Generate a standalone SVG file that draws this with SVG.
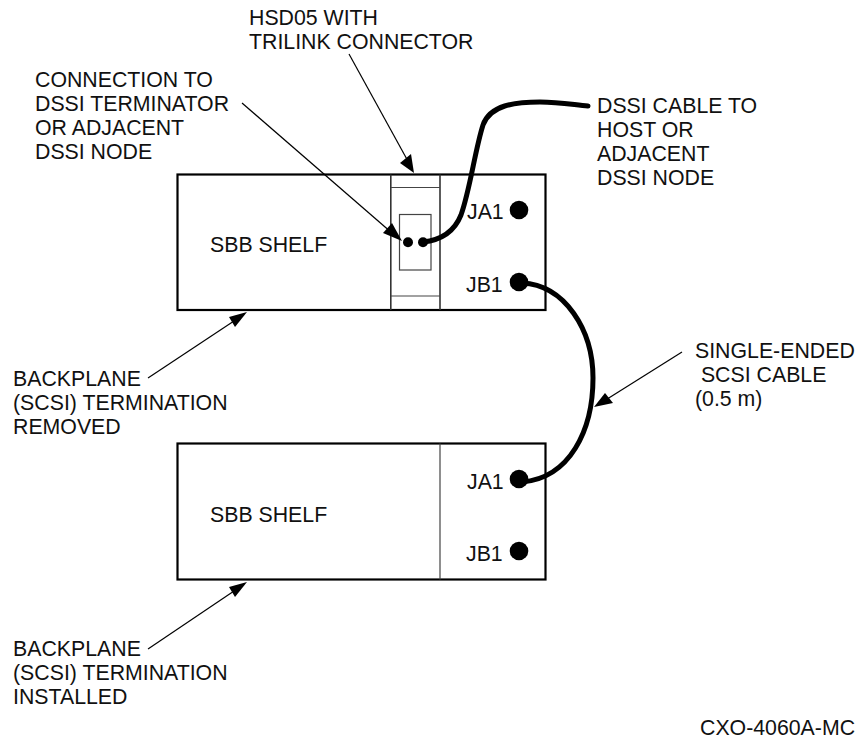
<svg xmlns="http://www.w3.org/2000/svg" width="858" height="740" viewBox="0 0 858 740">
<style>
text{font-family:"Liberation Sans",Arial,sans-serif;font-size:21.3px;fill:#111;white-space:pre}
.box{fill:none;stroke:#000;stroke-width:2.2}
.thin{fill:none;stroke:#444;stroke-width:1.2}
.mid{fill:none;stroke:#333;stroke-width:1.6}
.lead{fill:none;stroke:#000;stroke-width:1.2}
.cable{fill:none;stroke:#000;stroke-width:5;stroke-linecap:round}
.head{fill:#000;stroke:none}
</style>
<rect width="858" height="740" fill="#fff"/>
<g id="shelf-top">
<rect class="box" x="177.500" y="174.500" width="368" height="135.500"/>
<line class="mid" x1="390.800" y1="174.500" x2="390.800" y2="310"/>
<line class="mid" x1="440" y1="174.500" x2="440" y2="310"/>
<line class="thin" x1="391" y1="187.500" x2="440" y2="187.500"/>
<line class="thin" x1="391" y1="296" x2="440" y2="296"/>
<rect class="thin" x="399.500" y="214.500" width="31.500" height="55.500"/>
<text x="210" y="252">SBB SHELF</text>
<text x="467" y="219">JA1</text>
<text x="466" y="292">JB1</text>
</g>
<g id="shelf-bottom">
<rect class="box" x="177.500" y="443.500" width="368" height="136"/>
<line class="thin" x1="440" y1="443.500" x2="440" y2="579.500"/>
<text x="210" y="522">SBB SHELF</text>
<text x="467" y="489">JA1</text>
<text x="466" y="561">JB1</text>
</g>
<g id="ports">
<circle cx="519" cy="210" r="9.300"/>
<circle cx="519" cy="282" r="9.300"/>
<circle cx="519" cy="479" r="9.300"/>
<circle cx="519" cy="551" r="9.300"/>
<circle cx="408" cy="242.300" r="5"/>
<circle cx="423" cy="242.300" r="5"/>
</g>
<g id="connectors">
<path class="cable" d="M423 242C442 240 455 230 461 215C470 190 475 150 483 125C490 105 515 102 540 102C560 102 575 105 588 106"/>
<path class="cable" d="M522 283C565 285 593 330 593 378C593 430 570 478 522 482"/>
<line class="lead" x1="349" y1="54" x2="409" y2="163"/>
<path class="head" d="M414 173L400 163L411 154Z"/>
<line class="lead" x1="242" y1="103" x2="392" y2="233"/>
<path class="head" d="M402 241L383 233L392 223Z"/>
<line class="lead" x1="148" y1="378" x2="237" y2="319"/>
<path class="head" d="M247 312L235 327L229 317Z"/>
<line class="lead" x1="148" y1="649" x2="237" y2="589"/>
<path class="head" d="M247 582L235 597L229 587Z"/>
<line class="lead" x1="682" y1="352" x2="604" y2="401"/>
<path class="head" d="M594 407L605 393L613 403Z"/>
</g>
<g id="labels">
<text x="249" y="25">HSD05 WITH</text>
<text x="249" y="49">TRILINK CONNECTOR</text>
<text x="35" y="87">CONNECTION TO</text>
<text x="35" y="111">DSSI TERMINATOR</text>
<text x="35" y="135">OR ADJACENT</text>
<text x="35" y="159">DSSI NODE</text>
<text x="597" y="113">DSSI CABLE TO</text>
<text x="597" y="137">HOST OR</text>
<text x="597" y="160.500">ADJACENT</text>
<text x="597" y="184.500">DSSI NODE</text>
<text x="695" y="358">SINGLE-ENDED</text>
<text x="695" y="382"> SCSI CABLE</text>
<text x="695" y="406">(0.5 m)</text>
<text x="13" y="386">BACKPLANE</text>
<text x="13" y="410">(SCSI) TERMINATION</text>
<text x="13" y="433.500">REMOVED</text>
<text x="13" y="656">BACKPLANE</text>
<text x="13" y="680">(SCSI) TERMINATION</text>
<text x="13" y="703.500">INSTALLED</text>
<text x="700" y="735">CXO-4060A-MC</text>
</g>
</svg>
